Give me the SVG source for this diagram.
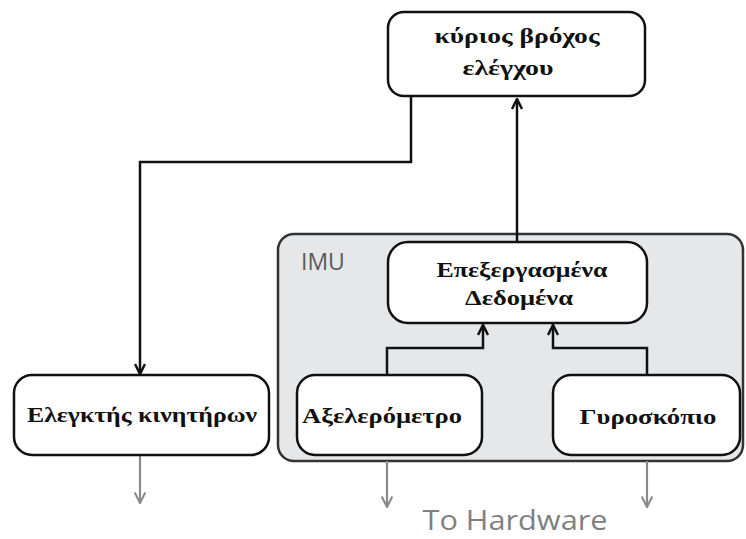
<svg xmlns="http://www.w3.org/2000/svg" width="746" height="539" viewBox="0 0 746 539">
  <defs>
    <marker id="arrowBlack" viewBox="0 0 10 10" refX="9" refY="5" markerWidth="5" markerHeight="5" orient="auto" markerUnits="strokeWidth">
      <path d="M1,1 L9,5 L1,9" fill="none" stroke="#111" stroke-width="2"/>
    </marker>
    <marker id="arrowGray" viewBox="0 0 10 10" refX="9" refY="5" markerWidth="6" markerHeight="6" orient="auto" markerUnits="strokeWidth">
      <path d="M1,1 L9,5 L1,9" fill="none" stroke="#8a8a8a" stroke-width="1.6"/>
    </marker>
  </defs>
  <style>
    .box { fill: #ffffff; stroke: #111; stroke-width: 2.5; }
    .container { fill: #e6e7e9; stroke: #333; stroke-width: 2.5; }
    .label { font-family: "Liberation Serif", "DejaVu Serif", serif; font-weight: bold; font-size: 22px; fill: #111; text-anchor: middle; }
    .link { fill: none; stroke: #111; stroke-width: 2.5; marker-end: url(#arrowBlack); }
    .out { fill: none; stroke: #8a8a8a; stroke-width: 2.2; marker-end: url(#arrowGray); }
    .sans { font-family: "Open Sans", "Liberation Sans", sans-serif; }
  </style>

  <rect width="746" height="539" fill="#ffffff"/>

  <!-- IMU enclosure -->
  <g id="imu">
    <rect class="container" x="278" y="234" width="465" height="227" rx="16"/>
    <text class="sans" x="301" y="270" font-size="23" fill="#5a5a5a">IMU</text>
  </g>

  <!-- connectors -->
  <g id="connectors">
    <path class="link" d="M411,97 V162 H140 V374"/>
    <path class="link" d="M517,242 V99"/>
    <path class="link" d="M387,375 V348 H483 V325"/>
    <path class="link" d="M647,375 V348 H553 V325"/>
    <path class="out" d="M140,455 V503"/>
    <path class="out" d="M387,461 V507"/>
    <path class="out" d="M647,461 V507"/>
  </g>

  <g id="main-loop">
    <rect class="box" x="388" y="12" width="257" height="84" rx="16"/>
    <text class="label" x="517" y="43" textLength="165" lengthAdjust="spacingAndGlyphs">κύριος βρόχος</text>
    <text class="label" x="508" y="75" textLength="91" lengthAdjust="spacingAndGlyphs">ελέγχου</text>
  </g>

  <g id="processed-data">
    <rect class="box" x="388" y="242" width="259" height="81" rx="20"/>
    <text class="label" x="522" y="277" textLength="171" lengthAdjust="spacingAndGlyphs">Επεξεργασμένα</text>
    <text class="label" x="519" y="305" textLength="108" lengthAdjust="spacingAndGlyphs">Δεδομένα</text>
  </g>

  <g id="motor-controller">
    <rect class="box" x="14" y="375" width="255" height="80" rx="18"/>
    <text class="label" x="142" y="422" textLength="230" lengthAdjust="spacingAndGlyphs">Ελεγκτής κινητήρων</text>
  </g>

  <g id="accelerometer">
    <rect class="box" x="297" y="375" width="185" height="80" rx="18"/>
    <text class="label" x="382" y="423" textLength="160" lengthAdjust="spacingAndGlyphs">Αξελερόμετρο</text>
  </g>

  <g id="gyroscope">
    <rect class="box" x="553" y="375" width="187" height="80" rx="18"/>
    <text class="label" x="648" y="424" textLength="137" lengthAdjust="spacingAndGlyphs">Γυροσκόπιο</text>
  </g>

  <text class="sans" x="515" y="530" font-size="28" fill="#808080" text-anchor="middle" textLength="185" lengthAdjust="spacingAndGlyphs">To Hardware</text>
</svg>
